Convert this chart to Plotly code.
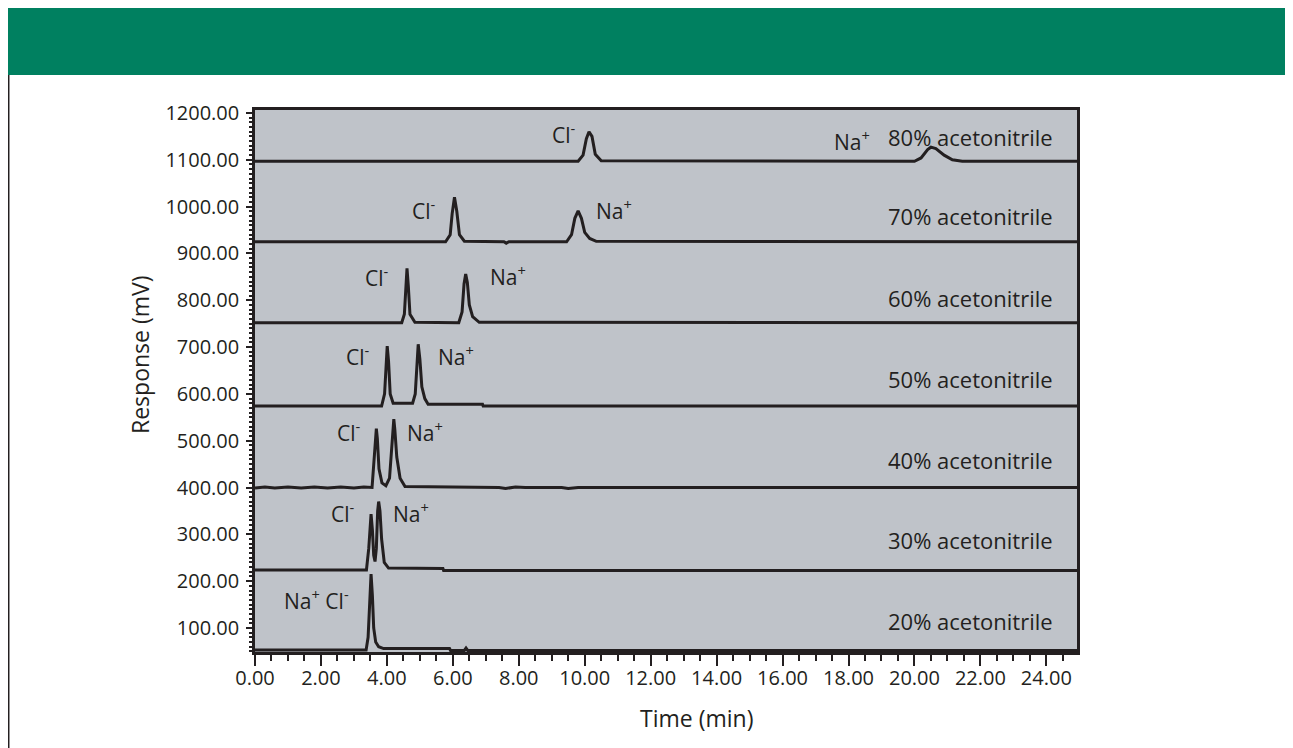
import plotly.graph_objects as go

# ---------------- data ----------------
t80 = [0, 9.80, 9.95, 10.05, 10.13, 10.22, 10.32, 10.50, 20.00, 20.20, 20.40, 20.50, 20.65, 20.90, 21.15, 21.45, 24.93]
r80 = [1097, 1097, 1110, 1145, 1160, 1150, 1112, 1098, 1097, 1104, 1122, 1127, 1124, 1110, 1100, 1097, 1097]

t70 = [0, 5.78, 5.92, 5.98, 6.05, 6.12, 6.20, 6.35, 7.55, 7.62, 7.70, 9.45, 9.60, 9.70, 9.80, 9.90, 10.00, 10.15, 10.35, 24.93]
r70 = [925, 925, 940, 985, 1020, 990, 940, 926, 925, 922, 925, 925, 940, 975, 991, 975, 945, 932, 926, 925]

t60 = [0, 4.45, 4.53, 4.57, 4.61, 4.65, 4.70, 4.85, 6.18, 6.28, 6.34, 6.39, 6.44, 6.50, 6.60, 6.80, 24.93]
r60 = [752, 752, 770, 830, 868, 830, 770, 753, 752, 775, 835, 856, 838, 790, 765, 753, 752]

t50 = [0, 3.84, 3.93, 3.97, 4.01, 4.05, 4.10, 4.19, 4.78, 4.86, 4.91, 4.95, 5.00, 5.06, 5.15, 5.25, 6.90, 6.92, 24.93]
r50 = [574, 574, 600, 670, 702, 670, 600, 580, 580, 600, 670, 706, 675, 615, 590, 578, 578, 574, 574]

t40 = [0, 0.3, 0.6, 1.0, 1.4, 1.8, 2.2, 2.6, 3.0, 3.3, 3.55, 3.62, 3.66, 3.68, 3.71, 3.76, 3.85, 3.97,
       4.08, 4.15, 4.19, 4.21, 4.24, 4.30, 4.40, 4.55, 7.4, 7.6, 7.9, 8.2, 9.3, 9.5, 9.8, 24.93]
r40 = [399, 401, 399, 401, 399, 401, 399, 401, 399, 401, 400, 460, 510, 526, 505, 440, 410, 404,
       420, 500, 540, 546, 525, 465, 420, 402, 400, 398, 401, 400, 400, 398, 400, 400]

t30 = [0, 3.38, 3.45, 3.49, 3.52, 3.56, 3.60, 3.64, 3.68, 3.72, 3.75, 3.79, 3.84, 3.92, 4.05, 5.70, 5.72, 24.93]
r30 = [224, 224, 270, 325, 343, 310, 255, 242, 270, 350, 370, 350, 290, 240, 228, 227, 223, 223]

t20 = [0, 3.37, 3.43, 3.48, 3.52, 3.56, 3.60, 3.66, 3.75, 3.90, 5.90, 5.93, 6.35, 6.40, 6.45, 24.93]
r20 = [53, 53, 80, 170, 215, 170, 100, 70, 60, 56, 56, 52, 52, 57, 52, 52]

series = [(t80, r80), (t70, r70), (t60, r60), (t50, r50), (t40, r40), (t30, r30), (t20, r20)]

# right-hand labels
cond_labels = ["80% acetonitrile", "70% acetonitrile", "60% acetonitrile", "50% acetonitrile",
               "40% acetonitrile", "30% acetonitrile", "20% acetonitrile"]
cond_t = 24.25
cond_r = [1149, 980, 805, 632, 459, 288, 115]

# peak labels
ion_text = ["Cl<sup>-</sup>", "Na<sup>+</sup>",
            "Cl<sup>-</sup>", "Na<sup>+</sup>",
            "Cl<sup>-</sup>", "Na<sup>+</sup>",
            "Cl<sup>-</sup>", "Na<sup>+</sup>",
            "Cl<sup>-</sup>", "Na<sup>+</sup>",
            "Cl<sup>-</sup>", "Na<sup>+</sup>",
            "Na<sup>+</sup> Cl<sup>-</sup>"]
ion_t = [9.37, 18.10, 5.12, 10.88, 3.71, 7.68, 3.11, 6.09, 2.85, 5.15, 2.67, 4.73, 1.88]
ion_r = [1157, 1142, 993, 993, 850, 852, 681, 683, 519, 519, 346, 346, 160]

x_ticks = [0, 2, 4, 6, 8, 10, 12, 14, 16, 18, 20, 22, 24]
y_ticks = [100, 200, 300, 400, 500, 600, 700, 800, 900, 1000, 1100, 1200]

# ---------------- figure ----------------
INK = "#231f20"
FONT = "Open Sans"

fig = go.Figure()
for t, r in series:
    fig.add_trace(go.Scatter(x=t, y=r, mode="lines",
                             line=dict(color=INK, width=3),
                             showlegend=False, hoverinfo="skip"))

annotations = []
for txt, rr in zip(cond_labels, cond_r):
    annotations.append(dict(x=cond_t, y=rr, xref="x", yref="y", text=txt, showarrow=False,
                            xanchor="right", yanchor="middle",
                            font=dict(family=FONT, size=22, color=INK)))
for txt, tt, rr in zip(ion_text, ion_t, ion_r):
    annotations.append(dict(x=tt, y=rr, xref="x", yref="y", text=txt, showarrow=False,
                            xanchor="center", yanchor="middle",
                            font=dict(family=FONT, size=21, color=INK)))
annotations.append(dict(x=-0.1399, y=0.548, xref="paper", yref="paper", text="Response (mV)",
                        textangle=-90, showarrow=False, xanchor="center", yanchor="middle",
                        font=dict(family=FONT, size=23, color=INK)))
annotations.append(dict(x=0.5377, y=-0.1218, xref="paper", yref="paper", text="Time (min)",
                        showarrow=False, xanchor="center", yanchor="middle",
                        font=dict(family=FONT, size=23, color=INK)))

shapes = [
    dict(type="rect", xref="paper", yref="paper", x0=-0.301, x1=1.27, y0=1.0646, y1=1.19,
         fillcolor="#008060", line=dict(width=0), layer="below"),
    dict(type="line", xref="paper", yref="paper", x0=-0.2996, x1=-0.2996, y0=1.0646, y1=-0.2,
         line=dict(color=INK, width=1.5)),
]

fig.update_layout(
    width=1285, height=740,
    margin=dict(l=247, r=216, t=102, b=96),
    paper_bgcolor="white",
    plot_bgcolor="#bfc3c9",
    font=dict(family=FONT, color=INK),
    annotations=annotations,
    shapes=shapes,
    xaxis=dict(range=[0, 24.93], tickvals=x_ticks, tickformat=".2f",
               ticks="outside", ticklen=11, tickwidth=2, tickcolor=INK,
               minor=dict(dtick=0.5, tick0=0, ticks="outside", ticklen=6, tickwidth=2, tickcolor=INK),
               showline=True, linecolor=INK, linewidth=2.5, mirror=True,
               showgrid=False, zeroline=False, ticklabelstandoff=-5,
               tickfont=dict(family=FONT, size=20, color=INK)),
    yaxis=dict(range=[48.7, 1206.4], tickvals=y_ticks, tickformat=".2f",
               ticks="outside", ticklen=6, tickwidth=2, tickcolor=INK,
               minor=dict(dtick=10, tick0=0, ticks="outside", ticklen=3, tickwidth=1.5, tickcolor=INK),
               showline=True, linecolor=INK, linewidth=2.5, mirror=True,
               showgrid=False, zeroline=False, ticklabelstandoff=3,
               tickfont=dict(family=FONT, size=20, color=INK)),
)

fig.write_html("out.html")
